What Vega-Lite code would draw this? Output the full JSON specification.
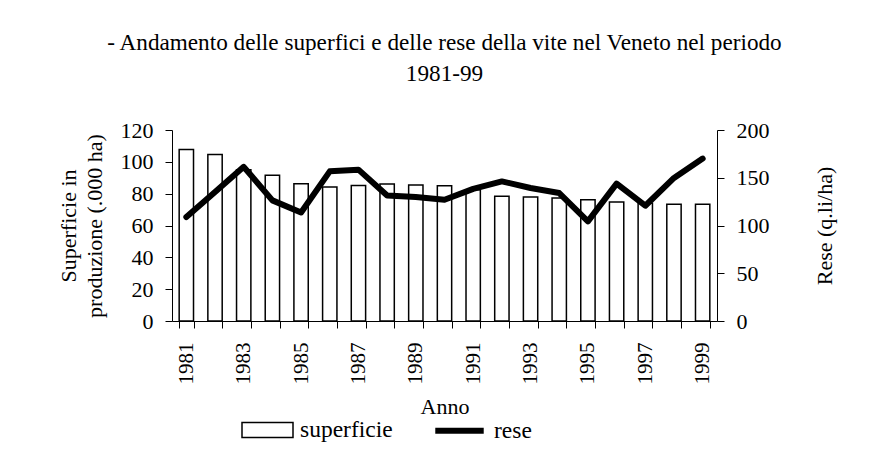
{
  "$schema": "https://vega.github.io/schema/vega-lite/v6.json",
  "width": 545,
  "height": 191,
  "autosize": {"type": "none"},
  "padding": {"left": 172, "top": 130, "right": 152, "bottom": 153},
  "background": "white",
  "title": {
    "text": ["- Andamento delle superfici e delle rese della vite nel Veneto nel periodo", "1981-99"],
    "font": "Liberation Serif",
    "fontSize": 23.2,
    "fontWeight": "normal",
    "color": "black",
    "lineHeight": 31,
    "anchor": "middle",
    "offset": 33
  },
  "data": {
    "values": [
      {"anno": 1981, "serie": "superficie", "valore": 107.7},
      {"anno": 1982, "serie": "superficie", "valore": 104.6},
      {"anno": 1983, "serie": "superficie", "valore": 95},
      {"anno": 1984, "serie": "superficie", "valore": 91.5},
      {"anno": 1985, "serie": "superficie", "valore": 86.3},
      {"anno": 1986, "serie": "superficie", "valore": 84.2},
      {"anno": 1987, "serie": "superficie", "valore": 85.2},
      {"anno": 1988, "serie": "superficie", "valore": 86.1},
      {"anno": 1989, "serie": "superficie", "valore": 85.5},
      {"anno": 1990, "serie": "superficie", "valore": 85},
      {"anno": 1991, "serie": "superficie", "valore": 82.5},
      {"anno": 1992, "serie": "superficie", "valore": 78.3},
      {"anno": 1993, "serie": "superficie", "valore": 77.9},
      {"anno": 1994, "serie": "superficie", "valore": 77.3},
      {"anno": 1995, "serie": "superficie", "valore": 76.2},
      {"anno": 1996, "serie": "superficie", "valore": 74.8},
      {"anno": 1997, "serie": "superficie", "valore": 74},
      {"anno": 1998, "serie": "superficie", "valore": 73.3},
      {"anno": 1999, "serie": "superficie", "valore": 73.3},
      {"anno": 1981, "serie": "rese", "valore": 108.9},
      {"anno": 1982, "serie": "rese", "valore": 135},
      {"anno": 1983, "serie": "rese", "valore": 161.4},
      {"anno": 1984, "serie": "rese", "valore": 126.3},
      {"anno": 1985, "serie": "rese", "valore": 113.7},
      {"anno": 1986, "serie": "rese", "valore": 156.7},
      {"anno": 1987, "serie": "rese", "valore": 158.5},
      {"anno": 1988, "serie": "rese", "valore": 131.5},
      {"anno": 1989, "serie": "rese", "valore": 129.9},
      {"anno": 1990, "serie": "rese", "valore": 127},
      {"anno": 1991, "serie": "rese", "valore": 138.3},
      {"anno": 1992, "serie": "rese", "valore": 146.2},
      {"anno": 1993, "serie": "rese", "valore": 139.3},
      {"anno": 1994, "serie": "rese", "valore": 134},
      {"anno": 1995, "serie": "rese", "valore": 104.3},
      {"anno": 1996, "serie": "rese", "valore": 143.8},
      {"anno": 1997, "serie": "rese", "valore": 120.7},
      {"anno": 1998, "serie": "rese", "valore": 149.8},
      {"anno": 1999, "serie": "rese", "valore": 170.1}
    ]
  },
  "encoding": {
    "x": {
      "field": "anno",
      "type": "ordinal",
      "scale": {"paddingInner": 0.5, "paddingOuter": 0.25},
      "axis": {
        "title": "Anno",
        "labelAngle": 270,
        "labelFontSize": 21,
        "labelExpr": "datum.value % 2 == 1 ? datum.label : ''",
        "tickBand": "extent",
        "tickSize": 7,
        "labelPadding": 14,
        "titlePadding": 12
      }
    }
  },
  "layer": [
    {
      "transform": [{"filter": "datum.serie === 'superficie'"}],
      "mark": {"type": "bar", "fill": "white", "stroke": "black", "strokeWidth": 1.5},
      "encoding": {
        "y": {
          "field": "valore",
          "type": "quantitative",
          "scale": {"domain": [0, 120], "nice": false},
          "axis": {
            "orient": "left",
            "title": ["Superficie in", "produzione (.000 ha)"],
            "values": [0, 20, 40, 60, 80, 100, 120],
            "tickSize": 7,
            "labelPadding": 12,
            "titlePadding": 14,
            "titleLineHeight": 26
          }
        }
      }
    },
    {
      "transform": [{"filter": "datum.serie === 'rese'"}],
      "mark": {"type": "line", "stroke": "black", "strokeWidth": 6, "strokeCap": "round", "strokeJoin": "round"},
      "encoding": {
        "y": {
          "field": "valore",
          "type": "quantitative",
          "scale": {"domain": [0, 200], "nice": false},
          "axis": {
            "orient": "right",
            "title": "Rese (q.li/ha)",
            "titleAngle": 270,
            "values": [0, 50, 100, 150, 200],
            "tickSize": 7,
            "labelPadding": 12,
            "titlePadding": 67
          }
        }
      }
    },
    {
      "transform": [{"filter": "false"}],
      "mark": {"type": "point", "filled": false, "opacity": 0},
      "encoding": {
        "shape": {
          "field": "serie",
          "type": "nominal",
          "scale": {"domain": ["superficie", "rese"], "range": ["M-1,-0.29L1,-0.29L1,0.29L-1,0.29Z", "M-0.95,0L0.95,0"]},
          "legend": {
            "title": null,
            "orient": "none",
            "direction": "horizontal",
            "legendX": 69,
            "legendY": 272,
            "symbolSize": 2601,
            "symbolOpacity": 1,
            "symbolFillColor": "transparent",
            "labelOffset": 6,
            "columnPadding": 30,
            "labelFont": "Liberation Serif",
            "labelFontSize": 23.5,
            "labelColor": "black"
          }
        },
        "stroke": {
          "field": "serie",
          "type": "nominal",
          "scale": {"domain": ["superficie", "rese"], "range": ["black", "black"]}
        },
        "strokeWidth": {
          "field": "serie",
          "type": "nominal",
          "scale": {"domain": ["superficie", "rese"], "range": [1.5, 6]}
        }
      }
    }
  ],
  "resolve": {"scale": {"y": "independent"}},
  "config": {
    "view": {"stroke": null},
    "axis": {
      "grid": false,
      "domainColor": "black",
      "domainWidth": 1,
      "tickColor": "black",
      "tickWidth": 1,
      "labelColor": "black",
      "labelFont": "Liberation Serif",
      "labelFontSize": 22,
      "titleFont": "Liberation Serif",
      "titleFontSize": 22,
      "titleFontWeight": "normal",
      "titleColor": "black"
    }
  }
}
